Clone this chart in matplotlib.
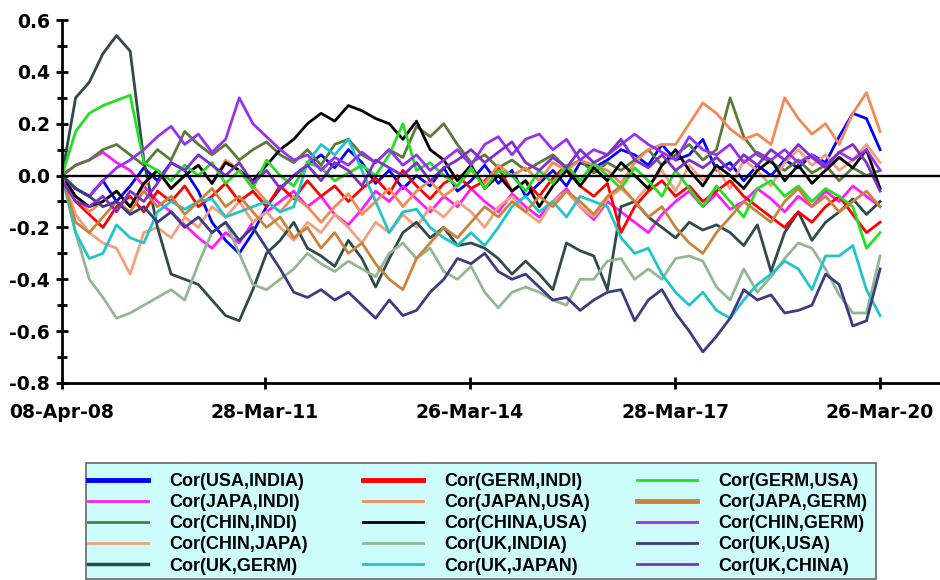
import numpy as np
import matplotlib
matplotlib.use("Agg")
import matplotlib.pyplot as plt
import matplotlib.dates as mdates
from matplotlib.lines import Line2D
from matplotlib.patches import Rectangle
from matplotlib.ticker import MultipleLocator, FixedLocator

plt.rcParams['font.family'] = ['DejaVu Sans']

# ---------------- data ----------------
start_date = "2008-04-08"
end_date = "2020-03-26"
tick_dates = ["2008-04-08", "2011-03-28", "2014-03-26", "2017-03-28", "2020-03-26"]
tick_labels = ["08-Apr-08", "28-Mar-11", "26-Mar-14", "28-Mar-17", "26-Mar-20"]

usa_india = [0.0, -0.05, -0.08, -0.02, -0.10, -0.04, 0.03, -0.02, 0.05, 0.02, -0.06, -0.18, -0.25, -0.30, -0.22, -0.12,
             -0.05, 0.0, 0.04, 0.08, 0.03, 0.10, 0.05, -0.03, 0.02, -0.05, 0.0, -0.04, 0.03, -0.06, -0.02, 0.04,
             -0.03, 0.02, -0.08, -0.03, 0.02, -0.04, 0.05, 0.03, 0.06, 0.10, 0.08, 0.04, 0.12, 0.06, 0.08, 0.14,
             0.02, 0.05, -0.02, 0.04, 0.0, 0.06, 0.03, 0.08, 0.05, 0.15, 0.24, 0.22, 0.10]
germ_indi = [0.0, -0.10, -0.15, -0.20, -0.12, -0.08, -0.14, -0.06, -0.10, -0.04, -0.12, -0.08, -0.03, -0.10, -0.06, -0.12,
             -0.04, -0.09, -0.02, -0.08, -0.04, -0.10, -0.05, -0.01, -0.07, 0.02, -0.04, -0.09, -0.03, 0.0, -0.05, -0.02,
             0.03, -0.06, -0.02, -0.08, -0.01, 0.04, -0.04, -0.08, -0.03, -0.22, -0.12, -0.06, -0.02, -0.08, -0.04, -0.10,
             -0.06, -0.02, -0.08, -0.12, -0.16, -0.20, -0.14, -0.18, -0.12, -0.08, -0.15, -0.22, -0.18]
germ_usa = [0.0, 0.17, 0.24, 0.27, 0.29, 0.31, 0.05, 0.02, -0.02, 0.04, 0.0, 0.05, -0.03, 0.02, -0.05, 0.06,
            0.0, -0.04, 0.05, 0.03, -0.02, 0.01, 0.04, 0.0, 0.08, 0.20, 0.02, 0.05, 0.0, -0.04, 0.03, -0.05,
            0.02, 0.0, -0.06, 0.02, -0.03, 0.04, -0.02, 0.05, 0.0, -0.05, 0.03, -0.02, -0.08, 0.02, -0.05, -0.12,
            -0.04, -0.10, -0.16, -0.05, -0.02, -0.08, -0.04, -0.10, -0.05, -0.08, -0.12, -0.28, -0.22]
japa_indi = [0.0, 0.04, 0.06, 0.09, 0.05, 0.02, -0.04, -0.10, -0.14, -0.19, -0.24, -0.28, -0.22, -0.26, -0.18, -0.14,
             -0.10, -0.06, -0.12, -0.08, -0.15, -0.19, -0.13, -0.06, -0.10, -0.04, -0.09, -0.14, -0.08, -0.12, -0.05, -0.10,
             -0.14, -0.07, -0.12, -0.16, -0.10, -0.05, -0.12, -0.17, -0.10, -0.14, -0.18, -0.22, -0.15, -0.10, -0.06, -0.12,
             -0.07, -0.13, -0.10, -0.05, -0.09, -0.14, -0.08, -0.12, -0.06, -0.10, -0.04, -0.08, -0.12]
japan_usa = [0.0, -0.08, -0.14, -0.10, -0.06, -0.12, -0.04, 0.02, -0.05, 0.0, 0.04, -0.03, 0.06, 0.02, -0.04, -0.10,
             -0.14, -0.08, -0.12, -0.18, -0.12, -0.07, -0.15, -0.10, -0.05, -0.12, -0.06, -0.02, -0.08, -0.04, 0.02, -0.03,
             0.04, 0.0, 0.03, -0.02, 0.05, 0.02, 0.06, 0.04, 0.02, -0.03, 0.05, 0.10, 0.12, 0.12, 0.20, 0.28,
             0.24, 0.18, 0.14, 0.16, 0.12, 0.30, 0.22, 0.16, 0.20, 0.12, 0.24, 0.32, 0.17]
japa_germ = [0.0, -0.18, -0.22, -0.16, -0.10, -0.14, -0.06, -0.12, -0.08, -0.15, -0.10, -0.05, -0.12, -0.08, -0.14, -0.20,
             -0.16, -0.24, -0.20, -0.28, -0.22, -0.30, -0.26, -0.34, -0.40, -0.44, -0.32, -0.26, -0.20, -0.24, -0.18, -0.12,
             -0.16, -0.10, -0.14, -0.08, -0.12, -0.06, -0.10, -0.15, -0.08, -0.04, -0.10, -0.16, -0.12, -0.20, -0.26, -0.30,
             -0.22, -0.16, -0.10, -0.14, -0.18, -0.10, -0.05, -0.12, -0.08, -0.14, -0.10, -0.06, -0.12]
chin_indi = [0.0, 0.04, 0.06, 0.10, 0.12, 0.08, 0.04, 0.10, 0.06, 0.17, 0.12, 0.08, 0.12, 0.06, 0.10, 0.13,
             0.08, 0.05, 0.10, 0.04, 0.12, 0.14, 0.08, 0.05, 0.10, 0.07, 0.19, 0.15, 0.20, 0.12, 0.05, 0.08,
             0.03, 0.06, 0.02, 0.05, 0.08, 0.03, 0.06, 0.01, 0.05, 0.02, 0.06, 0.10, 0.04, 0.08, 0.12, 0.06,
             0.10, 0.30, 0.15, 0.08, 0.05, 0.02, 0.06, 0.01, 0.04, -0.02, 0.03, 0.0, 0.02]
china_usa = [0.0, -0.08, -0.12, -0.10, -0.06, -0.12, -0.03, 0.02, -0.05, 0.0, 0.04, -0.03, 0.05, 0.02, -0.02, 0.04,
             0.10, 0.14, 0.20, 0.24, 0.21, 0.27, 0.25, 0.22, 0.20, 0.14, 0.21, 0.10, 0.06, -0.02, 0.04, -0.05,
             0.0, -0.06, -0.02, -0.12, -0.04, 0.02, -0.04, 0.03, -0.02, 0.05, 0.0, -0.05, 0.04, 0.10, 0.02, -0.04,
             0.04, 0.0, -0.05, 0.02, 0.06, -0.02, 0.04, -0.03, 0.02, 0.07, 0.03, 0.10, -0.05]
chin_germ = [0.0, -0.05, -0.08, -0.02, 0.03, 0.06, 0.10, 0.15, 0.19, 0.12, 0.16, 0.09, 0.14, 0.30, 0.20, 0.15,
             0.10, 0.06, 0.08, 0.02, 0.07, 0.04, 0.09, 0.05, 0.10, 0.04, 0.08, 0.02, 0.06, 0.10, 0.04, 0.12,
             0.15, 0.08, 0.14, 0.16, 0.10, 0.14, 0.06, 0.10, 0.08, 0.12, 0.16, 0.12, 0.09, 0.06, 0.15, 0.10,
             0.08, 0.12, 0.05, 0.09, 0.06, 0.10, 0.05, 0.08, 0.04, 0.09, 0.06, 0.10, 0.02]
chin_japa = [0.0, -0.15, -0.22, -0.26, -0.28, -0.38, -0.22, -0.20, -0.24, -0.16, -0.20, -0.12, -0.16, -0.10, -0.18, -0.14,
             -0.20, -0.25, -0.18, -0.22, -0.15, -0.20, -0.26, -0.18, -0.22, -0.15, -0.20, -0.12, -0.16, -0.10, -0.14, -0.20,
             -0.12, -0.08, -0.14, -0.18, -0.10, -0.06, -0.12, -0.16, -0.09, -0.05, -0.10, -0.04, 0.02, -0.06, 0.04, -0.02,
             0.03, -0.05, 0.06, 0.02, -0.04, 0.05, 0.10, 0.04, 0.08, 0.02, 0.06, 0.12, 0.05]
uk_india = [0.0, -0.22, -0.40, -0.47, -0.55, -0.53, -0.50, -0.47, -0.44, -0.48, -0.34, -0.22, -0.18, -0.30, -0.42, -0.44,
            -0.40, -0.36, -0.30, -0.34, -0.37, -0.33, -0.36, -0.39, -0.30, -0.26, -0.32, -0.28, -0.37, -0.40, -0.35, -0.45,
            -0.51, -0.45, -0.43, -0.45, -0.48, -0.50, -0.40, -0.40, -0.33, -0.32, -0.40, -0.36, -0.40, -0.32, -0.31, -0.33,
            -0.43, -0.48, -0.36, -0.45, -0.39, -0.32, -0.26, -0.28, -0.36, -0.46, -0.53, -0.53, -0.31]
uk_usa = [0.0, -0.05, -0.08, -0.12, -0.10, -0.15, -0.12, -0.18, -0.14, -0.20, -0.16, -0.22, -0.18, -0.25, -0.20, -0.28,
          -0.36, -0.45, -0.47, -0.44, -0.48, -0.45, -0.50, -0.55, -0.48, -0.54, -0.52, -0.45, -0.40, -0.32, -0.34, -0.30,
          -0.37, -0.40, -0.38, -0.43, -0.48, -0.47, -0.52, -0.48, -0.45, -0.44, -0.56, -0.48, -0.44, -0.53, -0.60, -0.68,
          -0.62, -0.55, -0.44, -0.48, -0.46, -0.53, -0.52, -0.50, -0.38, -0.42, -0.58, -0.56, -0.36]
uk_germ = [0.0, 0.30, 0.36, 0.47, 0.54, 0.48, 0.06, -0.20, -0.38, -0.40, -0.42, -0.48, -0.54, -0.56, -0.44, -0.30,
           -0.25, -0.18, -0.28, -0.31, -0.35, -0.25, -0.32, -0.43, -0.32, -0.22, -0.18, -0.24, -0.20, -0.27, -0.26, -0.28,
           -0.32, -0.38, -0.33, -0.38, -0.44, -0.26, -0.29, -0.31, -0.44, -0.12, -0.10, -0.16, -0.20, -0.24, -0.18, -0.21,
           -0.19, -0.22, -0.27, -0.19, -0.37, -0.22, -0.14, -0.25, -0.18, -0.14, -0.09, -0.15, -0.10]
uk_japan = [0.0, -0.22, -0.32, -0.30, -0.19, -0.24, -0.26, -0.14, -0.10, -0.13, -0.10, -0.09, -0.16, -0.14, -0.12, -0.10,
            -0.14, -0.12, 0.05, 0.12, 0.08, 0.14, 0.02, -0.10, -0.22, -0.14, -0.13, -0.20, -0.24, -0.27, -0.22, -0.27,
            -0.20, -0.12, -0.08, -0.14, -0.10, -0.16, -0.08, -0.10, -0.12, -0.24, -0.30, -0.28, -0.38, -0.45, -0.50, -0.45,
            -0.52, -0.55, -0.48, -0.42, -0.38, -0.33, -0.36, -0.44, -0.31, -0.31, -0.27, -0.44, -0.54]
uk_china = [-0.02, -0.10, -0.12, -0.08, -0.14, -0.06, -0.10, -0.03, 0.05, 0.02, 0.08, 0.04, 0.0, 0.05, -0.03, 0.02,
            -0.05, 0.0, 0.04, -0.02, 0.05, 0.02, -0.04, 0.06, 0.03, 0.0, 0.05, -0.02, 0.03, 0.06, 0.10, 0.05,
            0.09, 0.13, 0.05, 0.02, 0.07, 0.03, 0.10, 0.05, 0.08, 0.14, 0.06, 0.03, 0.08, 0.02, 0.06, 0.03,
            0.07, 0.02, 0.08, 0.04, 0.10, 0.06, 0.12, 0.07, 0.03, 0.09, 0.12, 0.05, -0.06]

# legend columns (3 columns x 5 rows)
series_names = ["Cor(USA,INDIA)", "Cor(JAPA,INDI)", "Cor(CHIN,INDI)", "Cor(CHIN,JAPA)", "Cor(UK,GERM)",
                "Cor(GERM,INDI)", "Cor(JAPAN,USA)", "Cor(CHINA,USA)", "Cor(UK,INDIA)", "Cor(UK,JAPAN)",
                "Cor(GERM,USA)", "Cor(JAPA,GERM)", "Cor(CHIN,GERM)", "Cor(UK,USA)", "Cor(UK,CHINA)"]
series_values = [usa_india, japa_indi, chin_indi, chin_japa, uk_germ,
                 germ_indi, japan_usa, china_usa, uk_india, uk_japan,
                 germ_usa, japa_germ, chin_germ, uk_usa, uk_china]
series_colors = ["#0000ff", "#ff1aff", "#5b7a3a", "#f2a07e", "#2f4a4a",
                 "#ff0000", "#f28a58", "#000000", "#92b892", "#22c4cc",
                 "#22e022", "#c8843c", "#9a30f0", "#3c3c80", "#8030c8"]
legend_widths = [3.5, 2.0, 2.0, 2.0, 2.5,
                 3.5, 2.0, 2.0, 2.0, 2.0,
                 2.0, 3.5, 2.0, 2.0, 2.0]
draw_order = [8, 13, 4, 9, 3, 11, 6, 1, 5, 0, 2, 7, 10, 12, 14]

W, H = 940.0, 580.0
fig = plt.figure(figsize=(9.4, 5.8), dpi=100)
ax = fig.add_axes([62 / W, 1 - 383 / H, 878 / W, (383 - 20) / H])

t0 = mdates.datestr2num(start_date)
t1 = mdates.datestr2num(end_date)
tx = np.linspace(t0, t1, len(usa_india))

for k in draw_order:
    ax.plot(tx, series_values[k], color=series_colors[k], lw=2.0, zorder=2 + k * 0.01)

ax.axhline(0, color="black", lw=1.7, zorder=5)

ax.set_xlim(t0, t1 + 320)
ax.set_ylim(-0.8, 0.6)
ax.spines["top"].set_visible(False)
ax.spines["right"].set_visible(False)
ax.spines["left"].set_linewidth(2)
ax.spines["bottom"].set_linewidth(2)

ax.xaxis.set_major_locator(FixedLocator([mdates.datestr2num(d) for d in tick_dates]))
ax.set_xticklabels(tick_labels)
yt = np.round(np.arange(-0.8, 0.61, 0.2), 1)
ax.set_yticks(yt)
ax.set_yticklabels(["%.1f" % (v + 0.0) for v in yt])
ax.yaxis.set_minor_locator(MultipleLocator(0.1))

ax.tick_params(axis="both", which="major", direction="inout", length=9, width=2,
               labelsize=13.5, pad=4)
ax.tick_params(axis="y", which="minor", direction="inout", length=7, width=2)
ax.tick_params(axis="x", which="major", pad=10)
for lab in ax.get_xticklabels() + ax.get_yticklabels():
    lab.set_fontweight("bold")

# legend frame
fig.patches.append(Rectangle((86 / W, 1 - 579 / H), (876 - 86) / W, (579 - 463) / H,
                             transform=fig.transFigure, facecolor="#ccfcfc",
                             edgecolor="#666666", lw=1.2, zorder=0))

col_x = [88, 363, 637]
for c in range(3):
    hs = [Line2D([], [], color=series_colors[c * 5 + r], lw=legend_widths[c * 5 + r]) for r in range(5)]
    lg = fig.legend(hs, series_names[c * 5:(c + 1) * 5], loc="upper left",
                    bbox_to_anchor=(col_x[c] / W, 1 - 473 / H),
                    frameon=False, prop={"family": "Liberation Sans", "size": 13, "weight": "bold"},
                    handlelength=3.3, handletextpad=1.2, labelspacing=0.23,
                    borderpad=0, borderaxespad=0)

fig.savefig("out.png", dpi=100)
